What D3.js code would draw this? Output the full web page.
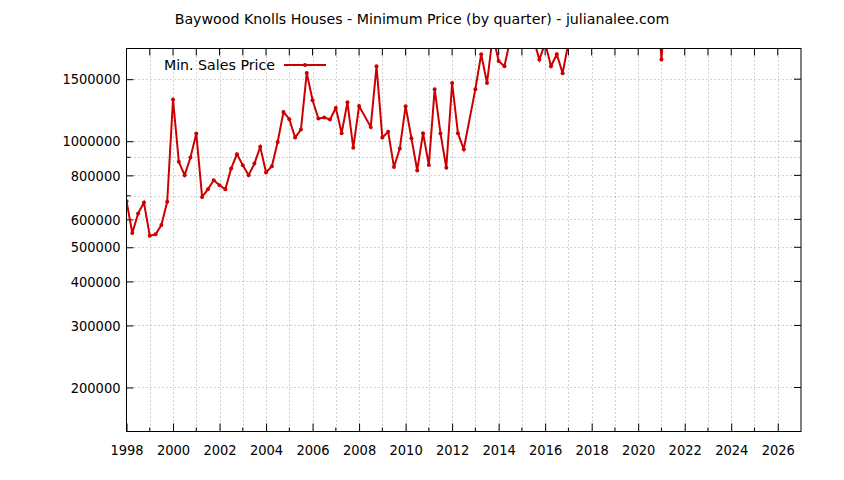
<!DOCTYPE html>
<html>
<head>
<meta charset="utf-8">
<script src="https://cdn.jsdelivr.net/npm/d3@7"></script>
<style>
  html, body { margin: 0; padding: 0; background: #fff; }
  svg { display: block; }
  svg text { font-family: "DejaVu Sans Condensed", "DejaVu Sans", sans-serif; font-stretch: condensed; }
  svg text.wide { font-family: "DejaVu Sans", sans-serif; font-stretch: normal; }
</style>
</head>
<body>
<div id="chart"></div>
<script>
// Baywood Knolls minimum sale price per quarter.
// Quarters with no sale are left out (gnuplot just joins across them);
// values above the y range are rough guesses, they only show as clipped lines.
const quarters = [
  1998.00, 1998.25, 1998.50, 1998.75, 1999.00, 1999.25, 1999.50, 1999.75,
  2000.00, 2000.25, 2000.50, 2000.75, 2001.00, 2001.25, 2001.50, 2001.75,
  2002.00, 2002.25, 2002.50, 2002.75, 2003.00, 2003.25, 2003.50, 2003.75,
  2004.00, 2004.25, 2004.50, 2004.75, 2005.00, 2005.25, 2005.50, 2005.75,
  2006.00, 2006.25, 2006.50, 2006.75, 2007.00, 2007.25, 2007.50, 2007.75,
  2008.00, 2008.50, 2008.75, 2009.00, 2009.25, 2009.50, 2009.75,
  2010.00, 2010.25, 2010.50, 2010.75, 2011.00, 2011.25, 2011.50, 2011.75,
  2012.00, 2012.25, 2012.50, 2013.00, 2013.25, 2013.50, 2013.75,
  2014.00, 2014.25, 2014.50, 2014.75, 2015.00, 2015.25, 2015.50, 2015.75,
  2016.00, 2016.25, 2016.50, 2016.75, 2017.00, 2017.25, 2017.50, 2017.75,
  2018.00, 2018.25, 2018.50, 2018.75, 2019.00, 2019.25, 2019.50, 2019.75,
  2020.00, 2020.25, 2020.50, 2020.75, 2021.00, 2021.25, 2021.50, 2021.75,
  2022.00, 2022.25, 2022.50, 2022.75, 2023.00, 2023.25, 2023.50, 2023.75,
  2024.00
];
const minPrice = [
  676000, 549000, 624000, 670000, 539000, 544000, 578000, 673000,
  1313000, 874000, 801000, 899000, 1052000, 695000, 730000, 775000,
  750000, 730000, 837000, 919000, 855000, 801000, 864000, 964000,
  815000, 849000, 995000, 1211000, 1155000, 1024000, 1079000, 1563000,
  1307000, 1160000, 1167000, 1152000, 1243000, 1054000, 1289000, 958000,
  1259000, 1098000, 1632000, 1024000, 1063000, 845000, 953000,
  1257000, 1020000, 826000, 1054000, 856000, 1405000, 1052000, 841000,
  1463000, 1054000, 949000, 1405000, 1766000, 1463000, 2000000,
  1690000, 1632000, 1950000, 2100000, 2050000, 2200000, 1950000, 1705000,
  1900000, 1632000, 1766000, 1560000, 1900000, 2050000, 2200000, 2100000,
  2350000, 2250000, 2400000, 2300000, 2500000, 2200000, 2450000, 2300000,
  2600000, 2400000, 2700000, 3000000, 1705000, 3000000, 2800000, 2900000,
  3100000, 2900000, 3200000, 3000000, 3300000, 3100000, 3200000, 3400000,
  3300000
];

const yLabelTicks = [200000, 300000, 400000, 500000, 600000, 800000, 1000000, 1500000];
const yExtraGrid = [700000, 900000];
const xLabelTicks = d3.range(1998, 2027, 2);
const xYearTicks = d3.range(1998, 2027, 1);

const titleText = "Baywood Knolls Houses - Minimum Price (by quarter) - julianalee.com";
const seriesName = "Min. Sales Price";

const W = 844, H = 480;
const m = { left: 126.5, right: 801, top: 48.5, bottom: 431.5 };
const RED = "#cc0000", GRID = "#a0a0a0", INK = "#000000";
const FS = "14.5px";

const x = d3.scaleLinear().domain([1998, 2027]).range([m.left, m.right]);
const y = d3.scaleLog().domain([150000, 1833000]).range([m.bottom, m.top]);

const svg = d3.create("svg")
  .attr("width", W).attr("height", H)
  .attr("viewBox", `0 0 ${W} ${H}`);

svg.append("rect").attr("width", W).attr("height", H).attr("fill", "#fff");

// dotted grid: every year vertically, labelled values + 700k/900k horizontally
const grid = svg.append("g").attr("stroke", GRID).attr("stroke-width", 1)
  .attr("stroke-dasharray", "1,3");
grid.selectAll("line.v").data(xYearTicks.slice(1)).join("line")
  .attr("class", "v")
  .attr("x1", (d) => Math.round(x(d)) + 0.5).attr("x2", (d) => Math.round(x(d)) + 0.5)
  .attr("y1", m.top).attr("y2", m.bottom);
grid.selectAll("line.h").data(yLabelTicks.concat(yExtraGrid)).join("line")
  .attr("class", "h")
  .attr("x1", m.left).attr("x2", m.right)
  .attr("y1", (d) => Math.round(y(d)) + 0.5).attr("y2", (d) => Math.round(y(d)) + 0.5);

// bottom axis: long ticks on even years, short on odd, labels on even
svg.append("g")
  .attr("transform", `translate(0,${m.bottom})`)
  .call(d3.axisBottom(x).tickValues(xLabelTicks).tickFormat(d3.format("d"))
    .tickSizeInner(-8).tickSizeOuter(0).tickPadding(13))
  .call((g) => g.select(".domain").remove())
  .call((g) => g.selectAll("line").attr("stroke", INK))
  .selectAll("text").attr("fill", INK).style("font-size", FS);

svg.append("g").selectAll("line").data(xYearTicks.filter((d) => d % 2 === 1)).join("line")
  .attr("x1", (d) => x(d)).attr("x2", (d) => x(d))
  .attr("y1", m.bottom).attr("y2", m.bottom - 4)
  .attr("stroke", INK);

// top mirror ticks
svg.append("g").selectAll("line").data(xYearTicks.slice(1)).join("line")
  .attr("x1", (d) => x(d)).attr("x2", (d) => x(d))
  .attr("y1", m.top).attr("y2", m.top + 7)
  .attr("stroke", INK);

// left axis
svg.append("g")
  .attr("transform", `translate(${m.left},0)`)
  .call(d3.axisLeft(y).tickValues(yLabelTicks).tickFormat(d3.format("d"))
    .tickSizeInner(-7).tickSizeOuter(0).tickPadding(6))
  .call((g) => g.select(".domain").remove())
  .call((g) => g.selectAll("line").attr("stroke", INK))
  .selectAll("text").attr("fill", INK).style("font-size", FS);

svg.append("g").selectAll("line").data(yExtraGrid).join("line")
  .attr("x1", m.left).attr("x2", m.left + 4)
  .attr("y1", (d) => y(d)).attr("y2", (d) => y(d))
  .attr("stroke", INK);

// right mirror ticks
svg.append("g").selectAll("line").data(yLabelTicks).join("line")
  .attr("x1", m.right).attr("x2", m.right - 7)
  .attr("y1", (d) => y(d)).attr("y2", (d) => y(d))
  .attr("stroke", INK);

// series, clipped to the plot box like gnuplot does
svg.append("clipPath").attr("id", "plotclip")
  .append("rect")
  .attr("x", m.left).attr("y", m.top)
  .attr("width", m.right - m.left).attr("height", m.bottom - m.top);

const pts = quarters.map((q, i) => ({ q, v: minPrice[i] }));
const line = d3.line().x((d) => x(d.q)).y((d) => y(d.v));

const plot = svg.append("g").attr("clip-path", "url(#plotclip)");
plot.append("path")
  .datum(pts)
  .attr("fill", "none")
  .attr("stroke", RED).attr("stroke-width", 2)
  .attr("d", line);
plot.append("g").selectAll("circle")
  .data(pts.filter((d) => d.v <= y.domain()[1]))
  .join("circle")
  .attr("cx", (d) => x(d.q)).attr("cy", (d) => y(d.v))
  .attr("r", 2).attr("fill", RED);

// border
svg.append("rect")
  .attr("x", m.left).attr("y", m.top)
  .attr("width", m.right - m.left).attr("height", m.bottom - m.top)
  .attr("fill", "none").attr("stroke", INK).attr("stroke-width", 1);

// legend (inside, top left)
const leg = svg.append("g");
leg.append("text")
  .attr("class", "wide")
  .attr("x", 275).attr("y", 70)
  .attr("text-anchor", "end").attr("fill", INK).style("font-size", "14.2px")
  .text(seriesName);
leg.append("line")
  .attr("x1", 284).attr("x2", 326).attr("y1", 65).attr("y2", 65)
  .attr("stroke", RED).attr("stroke-width", 2);
leg.append("circle").attr("cx", 305).attr("cy", 65).attr("r", 2).attr("fill", RED);

// title
svg.append("text")
  .attr("class", "wide")
  .attr("x", W / 2).attr("y", 24)
  .attr("text-anchor", "middle").attr("fill", INK).style("font-size", "14.2px")
  .text(titleText);

document.getElementById("chart").appendChild(svg.node());
</script>
</body>
</html>
